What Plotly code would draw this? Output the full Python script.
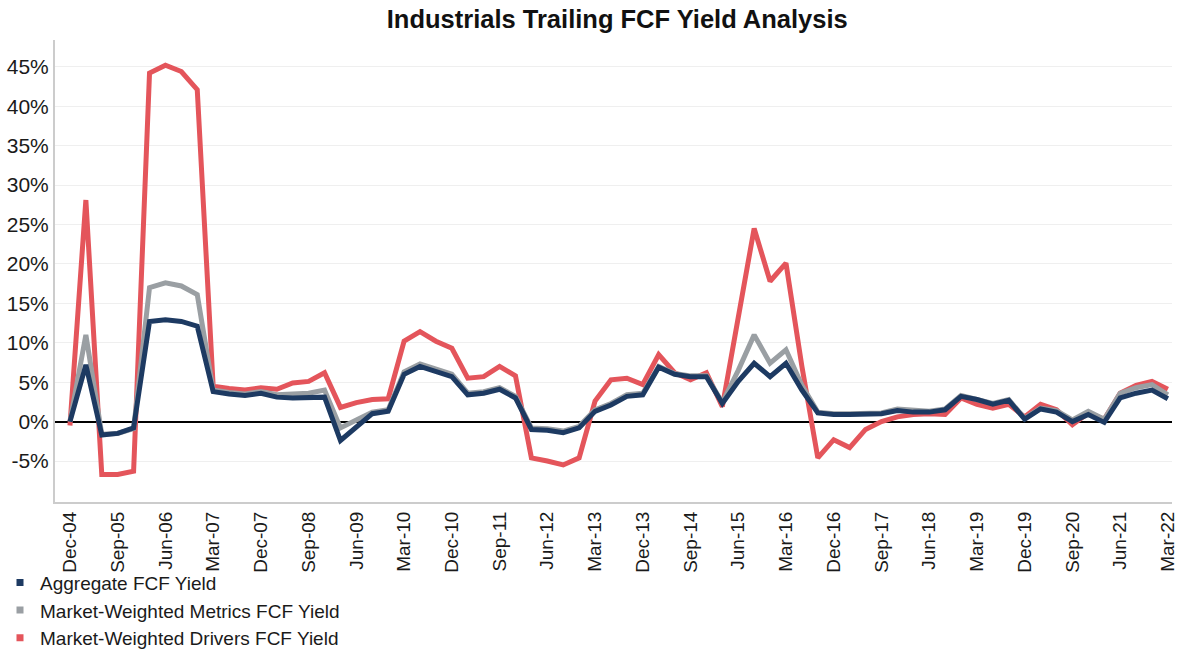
import pandas as pd
import plotly.graph_objects as go

quarters = [d.strftime("%b-%y") for d in pd.date_range("2004-12-31", periods=70, freq="QE")]

aggregate = [0.0, 7.2, -1.7, -1.5, -0.8, 12.7, 12.9, 12.7, 12.1, 3.8,
             3.5, 3.3, 3.6, 3.1, 3.0, 3.0, 3.1, -2.4, -0.6, 1.0,
             1.3, 6.0, 7.0, 6.4, 5.7, 3.4, 3.6, 4.1, 3.0, -1.0,
             -1.1, -1.4, -0.8, 1.3, 2.1, 3.2, 3.4, 6.9, 6.0, 5.7,
             5.7, 2.3, 5.1, 7.4, 5.7, 7.4, 4.0, 1.1, 0.9, 0.9,
             1.0, 1.0, 1.4, 1.2, 1.2, 1.5, 3.2, 2.8, 2.2, 2.7,
             0.3, 1.6, 1.2, 0.0, 0.9, -0.1, 3.0, 3.6, 4.0, 2.9]

metrics = [0.0, 11.0, -1.6, -1.5, -0.9, 17.0, 17.6, 17.2, 16.1, 4.0,
           3.7, 3.5, 3.8, 3.4, 3.5, 3.6, 4.0, -0.8, 0.2, 1.2,
           1.5, 6.3, 7.3, 6.7, 6.0, 3.6, 3.8, 4.3, 3.2, -0.8,
           -0.9, -1.2, -0.6, 1.5, 2.3, 3.4, 3.6, 7.0, 6.1, 5.8,
           5.8, 2.4, 6.5, 11.0, 7.4, 9.1, 4.6, 1.2, 1.0, 1.0,
           1.1, 1.1, 1.6, 1.4, 1.3, 1.6, 3.3, 2.8, 2.3, 2.8,
           0.4, 1.7, 1.4, 0.2, 1.3, 0.3, 3.6, 4.3, 4.7, 3.4]

drivers = [-0.5, 28.1, -6.7, -6.7, -6.3, 44.2, 45.2, 44.4, 42.1, 4.5,
           4.2, 4.0, 4.3, 4.1, 4.9, 5.1, 6.2, 1.8, 2.4, 2.8,
           2.9, 10.2, 11.4, 10.2, 9.3, 5.5, 5.7, 7.0, 5.8, -4.6,
           -5.0, -5.5, -4.6, 2.6, 5.3, 5.5, 4.7, 8.5, 6.2, 5.3,
           6.2, 1.9, 13.2, 24.5, 17.8, 20.1, 7.0, -4.6, -2.3, -3.3,
           -1.0, 0.0, 0.6, 0.9, 1.0, 0.9, 3.0, 2.2, 1.7, 2.2,
           0.6, 2.2, 1.5, -0.4, 1.1, 0.3, 3.6, 4.6, 5.1, 4.1]

y_ticks = [-5, 0, 5, 10, 15, 20, 25, 30, 35, 40, 45]
y_tick_text = [f"{v}%" for v in y_ticks]
x_ticks = quarters[::3]

NAVY = "#1d3a62"
GRAY = "#9a9fa3"
RED = "#e4555b"
FONT = "Liberation Sans, Arial, sans-serif"

fig = go.Figure()
for name, vals, color in [("Market-Weighted Drivers FCF Yield", drivers, RED),
                          ("Market-Weighted Metrics FCF Yield", metrics, GRAY),
                          ("Aggregate FCF Yield", aggregate, NAVY)]:
    fig.add_trace(go.Scatter(x=quarters, y=vals, mode="lines", name=name,
                             line=dict(color=color, width=5), showlegend=False))

for name, color in [("Aggregate FCF Yield", NAVY),
                    ("Market-Weighted Metrics FCF Yield", GRAY),
                    ("Market-Weighted Drivers FCF Yield", RED)]:
    fig.add_trace(go.Scatter(x=[None], y=[None], mode="markers", name=name,
                             marker=dict(symbol="square", size=7, color=color)))

fig.update_layout(
    width=1178, height=650,
    margin=dict(l=55, r=6, t=40, b=148, autoexpand=False),
    paper_bgcolor="white", plot_bgcolor="white",
    font=dict(family=FONT, color="#1a1a1a"),
    title=dict(text="<b>Industrials Trailing FCF Yield Analysis</b>",
               x=0.524, xanchor="center", y=0.97, yanchor="middle",
               font=dict(size=25.5, family=FONT, color="#111111")),
    legend=dict(xref="container", yref="container", x=0.0, xanchor="left",
                y=0.133, yanchor="top", bgcolor="rgba(0,0,0,0)",
                font=dict(size=19, family=FONT, color="#1a1a1a"),
                tracegroupgap=0, itemwidth=30, traceorder="normal"),
    showlegend=True,
)
fig.update_xaxes(type="category", categoryorder="array", categoryarray=quarters,
                 range=[-0.94, 69.26], tickmode="array", tickvals=x_ticks,
                 tickangle=-90, tickfont=dict(size=19), showgrid=False,
                 showline=True, linecolor="#cccccc", linewidth=2, ticks="",
                 automargin=False)
fig.update_yaxes(range=[-10.2, 48.4], tickmode="array", tickvals=y_ticks,
                 ticktext=y_tick_text, tickfont=dict(size=21),
                 showgrid=True, gridcolor="#efefef", gridwidth=1,
                 zeroline=True, zerolinecolor="#000000", zerolinewidth=2,
                 showline=True, linecolor="#cccccc", linewidth=2, ticks="",
                 automargin=False)

fig.write_html("out.html", config={"displayModeBar": False},
               post_script="document.body.style.margin='0';")
